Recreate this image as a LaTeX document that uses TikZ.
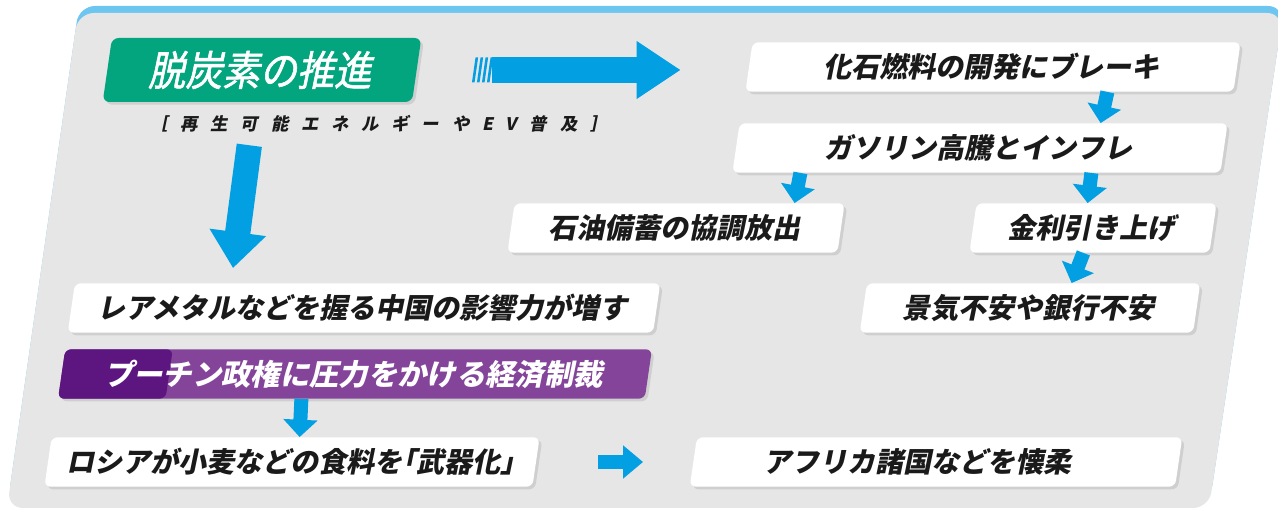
\documentclass[tikz,border=0pt]{standalone}
\usepackage{fontspec}
\newfontfamily\jp{Noto Sans CJK JP}[FakeSlant=0.06]
\newfontfamily\jphead{Noto Sans CJK JP}[FakeSlant=0.06,FakeBold=1.3,FakeStretch=0.9]
\newfontfamily\jpsub{Noto Sans CJK JP}[LetterSpace=74,FakeSlant=0.06]
\usetikzlibrary{arrows.meta,shadows,calc}
\definecolor{bg}{HTML}{E6E6E6}
\definecolor{band}{HTML}{6CC6EF}
\definecolor{arr}{HTML}{039FE3}
\definecolor{grn}{HTML}{02A57E}
\definecolor{pl}{HTML}{84449A}
\definecolor{pd}{HTML}{5D1680}
\definecolor{txt}{HTML}{1A1A1A}
\newcommand\halfw[1]{{\addfontfeature{RawFeature=+halt}#1}}
\begin{document}
\begin{tikzpicture}[x=0.75pt,y=0.75pt,
  box/.style={fill=white, rounded corners=4.5pt, xslant=0.145, minimum height=37pt,
    inner sep=0pt, font=\jp\bfseries\fontsize{21}{21}\selectfont, text=txt,
    drop shadow={shadow xshift=2pt, shadow yshift=-2pt, opacity=0.22}},
  purplebox/.style={box, fill=pl, text=white, font=\jp\bfseries\fontsize{22}{22}\selectfont,
    path picture={\fill[pd] (path picture bounding box.south west) rectangle ([xshift=86pt]path picture bounding box.north west);}},
  headbox/.style={fill=grn, rounded corners=5pt, xslant=0.145, minimum height=48pt,
    inner sep=0pt, font=\jphead\fontsize{31}{31}\selectfont, text=white,
    drop shadow={shadow xshift=2pt, shadow yshift=-2pt, opacity=0.22}},
  subtext/.style={xslant=0.145, inner sep=0pt, font=\jpsub\bfseries\fontsize{13}{13}\selectfont, text=txt},
  smallarrow/.style={draw=arr, line width=10.5pt, -{Triangle[width=25pt,length=13pt]}},
  bigarrow/.style={draw=arr, line width=19pt, -{Triangle[width=41pt,length=27pt]}},
  widearrow/.style={draw=arr, line width=19pt, -{Triangle[width=41pt,length=33pt]}},
  rightarrow/.style={draw=arr, line width=10pt, -{Triangle[width=24pt,length=15pt]}}
]
\useasboundingbox (0,0) rectangle (1278,510);
% background
\fill[band, rounded corners=12pt] (8,9) -- (79,504) -- (1284,504) -- (1210,9) -- cycle;
\fill[bg, rounded corners=12pt] (7,2) -- (78,497) -- (1283,497) -- (1209,2) -- cycle;

% nodes
\node[headbox, minimum width=232pt] (hd) at (262,440) {脱炭素の推進};
\node[subtext] (sub) at (380,386) {［再生可能エネルギーやEV普及］};
\node[box, minimum width=366pt] (b1) at (993,443) {化石燃料の開発にブレーキ};
\node[box, minimum width=366pt] (b2) at (980,362) {ガソリン高騰とインフレ};
\node[box, minimum width=247.5pt] (b3) at (676,282) {石油備蓄の協調放出};
\node[box, minimum width=180pt] (b4) at (1093,282) {金利引き上げ};
\node[box, minimum width=250pt] (b5) at (1030,202) {景気不安や銀行不安};
\node[box, minimum width=439pt] (b6) at (364,202) {レアメタルなどを握る中国の影響力が増す};
\node[purplebox, minimum width=440pt] (pu) at (355,136) {プーチン政権に圧力をかける経済制裁};
\node[box, minimum width=366pt] (b7) at (292,48) {ロシアが小麦などの食料を\halfw{「}武器化\halfw{」}};
\node[box, minimum width=364pt] (b8) at (936,48) {アフリカ諸国などを懐柔\hspace*{25pt}};

% connectors
\draw[widearrow] ($(hd.east)+(75,0)$) -- ($(b1.west)+(-68,-3)$);
\foreach \i in {0,1,2,3}
  \fill[arr] ($(hd.east)+(55+5*\i,-12.5)$) -- ++(2.6,0) -- ++(3.6,25) -- ++(-2.6,0) -- cycle;
\draw[bigarrow] ($(hd.south)+(-8,-43)$) -- ($(b6.north)+(-134.6,15)$);
\draw[smallarrow] ($(b1.south)+(118,0)$) -- ($(b2.north)+(117,0)$);
\draw[smallarrow] ($(b2.south)+(-176,0)$) -- ($(b3.north)+(115,0)$);
\draw[smallarrow] ($(b2.south)+(115,0)$) -- ($(b4.north)+(-9,0)$);
\draw[smallarrow] ($(b4.south)+(-6,0)$) -- ($(b5.north)+(38,0)$);
\draw[smallarrow] ($(pu.south)+(-50,0)$) -- ($(b7.north)+(4,0)$);
\draw[rightarrow] ($(b7.east)+(62,0)$) -- ($(b8.west)+(-50,0)$);
\end{tikzpicture}
\end{document}
